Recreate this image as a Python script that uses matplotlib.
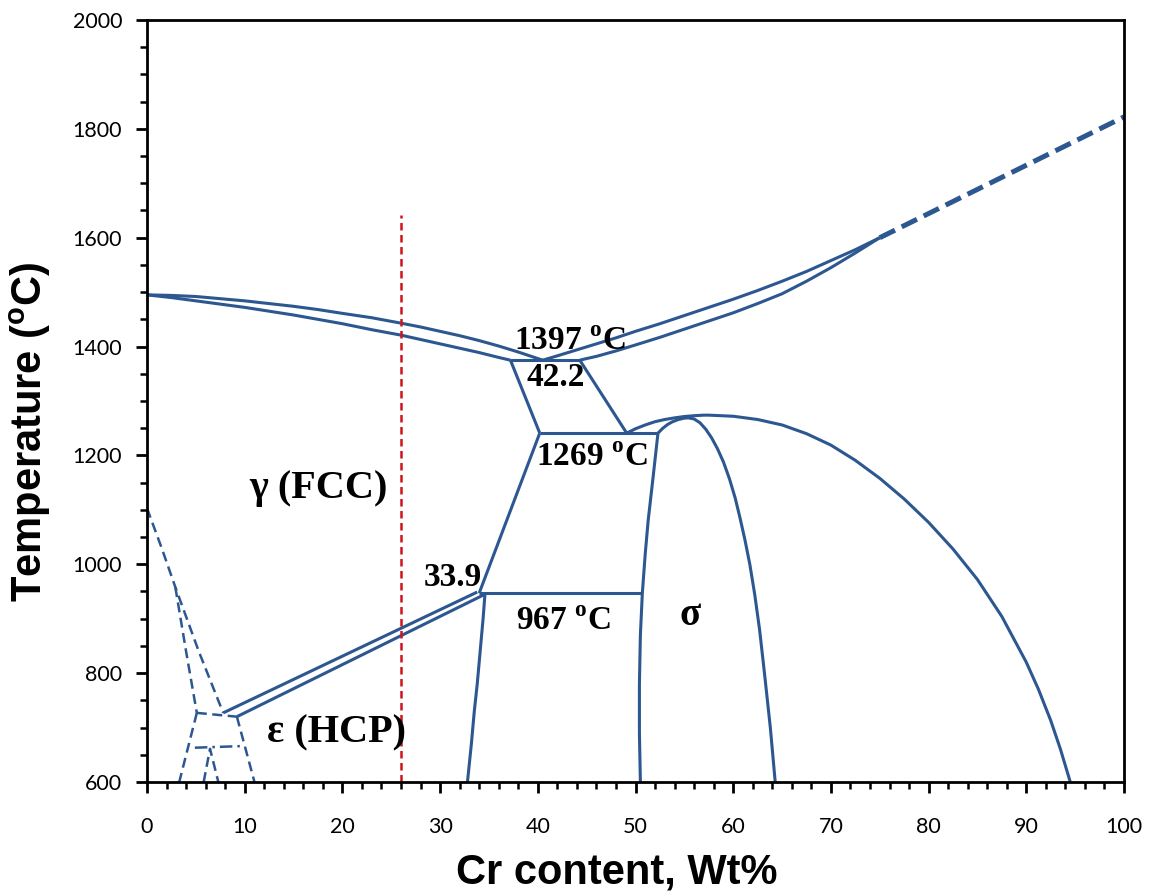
import matplotlib
matplotlib.use("Agg")
import matplotlib.pyplot as plt
from matplotlib.ticker import MultipleLocator

plt.rcParams['mathtext.fontset'] = 'custom'
plt.rcParams['mathtext.bf'] = 'Liberation Serif:bold'
plt.rcParams['mathtext.rm'] = 'Liberation Serif:bold'
plt.rcParams['mathtext.sf'] = 'Liberation Sans:bold'

BLUE = '#2c5790'
RED = '#d0141c'

# ---------------- data (x = Cr wt%, y = temperature degC) ----------------
liq_left_x = [0, 2.5, 5, 7.5, 10, 12.5, 15, 17.5, 20, 23, 26, 28, 30, 32, 34, 36, 38, 40.5]
liq_left_t = [1495, 1494, 1492, 1488, 1484, 1479, 1474, 1468, 1461, 1453, 1443, 1436,
              1428, 1420, 1411, 1401, 1390, 1375]
sol_left_x = [0, 2.5, 5, 7.5, 10, 12.5, 15, 17.5, 20, 23, 26, 28, 30, 32, 34, 36, 37.2]
sol_left_t = [1495, 1490, 1484, 1478, 1472, 1465, 1458, 1450, 1442, 1431, 1421, 1413,
              1405, 1397, 1389, 1380, 1375]

liq_right_x = [40.5, 42, 44, 46, 48, 50, 52.5, 55, 57.5, 60, 62.5, 65, 67.5, 70, 72.5, 75]
liq_right_t = [1375, 1383, 1394, 1405, 1416, 1428, 1442, 1457, 1472, 1487, 1503, 1520,
               1538, 1558, 1578, 1600]
sol_right_x = [44.3, 45, 46, 47, 48, 50, 52.5, 55, 57.5, 60, 62.5, 65, 67.5, 70, 72.5, 75]
sol_right_t = [1375, 1378, 1382, 1387, 1392, 1403, 1417, 1432, 1447, 1462, 1479, 1497,
               1520, 1545, 1572, 1600]

liq_ext_x = [75, 100]
liq_ext_t = [1600, 1822]

eut_x = [37.2, 44.3]
eut_t = [1375, 1375]

trap_left_x = [37.2, 40.2]
trap_left_t = [1375, 1241]
trap_right_x = [44.3, 49.1]
trap_right_t = [1375, 1241]

peri_x = [40.2, 52.3]
peri_t = [1241, 1241]

low_left_x = [40.2, 34.0]
low_left_t = [1241, 947]

eutectoid_x = [34.0, 50.7]
eutectoid_t = [947, 947]

sig_left_x = [34.6, 34.4, 34.2, 34.0, 33.8, 33.5, 33.2, 32.8]
sig_left_t = [947, 900, 860, 820, 780, 730, 670, 600]

sig_mid_x = [52.3, 51.8, 51.3, 51.0, 50.7, 50.5, 50.4, 50.4, 50.5]
sig_mid_t = [1241, 1160, 1081, 1020, 947, 870, 780, 690, 600]

sig_dome_x = [52.3, 52.8, 53.3, 53.8, 54.4, 55.0, 55.4, 56.0, 56.6, 57.2, 57.8, 58.4,
              59.0, 59.6, 60.2, 60.7, 61.2, 61.7, 62.2, 62.7, 63.2, 63.8, 64.3]
sig_dome_t = [1241, 1250, 1257, 1262, 1266, 1268.5, 1269, 1267, 1260, 1248, 1232, 1212,
              1188, 1158, 1122, 1085, 1045, 1000, 945, 880, 800, 700, 600]

bcc_x = [49.1, 50, 51, 52, 53, 54, 55, 56, 57, 57.5, 60, 62.5, 65, 67.5, 70, 72.5,
         75, 77.5, 80, 82.5, 85, 87.5, 90, 91.25, 92.5, 93.5, 94.5]
bcc_t = [1241, 1249, 1256, 1262, 1266, 1269, 1271.5, 1273, 1274, 1274, 1272, 1266,
         1256, 1240, 1219, 1191, 1158, 1120, 1077, 1028, 972, 904, 820, 770, 713, 660, 600]

eps_up_x = [7.8, 33.8]
eps_up_t = [727, 949]
eps_lo_x = [9.2, 34.6]
eps_lo_t = [720, 945]

hcp_a_x = [0, 1.5, 2.9, 5.3, 7.8]
hcp_a_t = [1103, 1030, 958, 840, 727]
hcp_b_x = [2.9, 4.0, 5.1]
hcp_b_t = [958, 840, 727]
hcp_top_x = [5.1, 9.2]
hcp_top_t = [727, 720]
hcp_l_x = [5.1, 3.3]
hcp_l_t = [727, 600]
hcp_r_x = [9.2, 11.0]
hcp_r_t = [720, 600]
hcp_dd_x = [4.9, 9.7]
hcp_dd_t = [663, 666]
hcp_cap_x = [5.8, 6.45, 7.3]
hcp_cap_t = [600, 661, 600]

alloy_x = [26.0, 26.0]
alloy_t = [600, 1642]

labels = [
    (r'1397 $^{\mathbf{o}}$C', 43.3, 1410, 24),
    ('42.2', 41.8, 1344, 24),
    (r'1269 $^{\mathbf{o}}$C', 45.5, 1196, 24),
    ('33.9', 31.3, 975, 24),
    (r'967 $^{\mathbf{o}}$C', 42.6, 894, 24),
    ('σ', 55.6, 905, 28),
    ('γ (FCC)', 17.5, 1140, 29),
    ('ε (HCP)', 19.4, 690, 29),
]

x_ticks = list(range(0, 101, 10))
y_ticks = list(range(600, 2001, 200))

# ---------------- figure ----------------
fig = plt.figure(figsize=(11.49, 8.96), dpi=100)
ax = fig.add_axes([147/1149, 1 - 782/896, (1124-147)/1149, (782-20)/896])

solid = dict(color=BLUE, lw=2.2, solid_capstyle='butt', solid_joinstyle='round')
for xs, ts in [(liq_left_x, liq_left_t), (sol_left_x, sol_left_t),
               (liq_right_x, liq_right_t), (sol_right_x, sol_right_t),
               (eut_x, eut_t), (trap_left_x, trap_left_t), (trap_right_x, trap_right_t),
               (peri_x, peri_t), (low_left_x, low_left_t), (eutectoid_x, eutectoid_t),
               (sig_left_x, sig_left_t), (sig_mid_x, sig_mid_t), (sig_dome_x, sig_dome_t),
               (bcc_x, bcc_t), (eps_up_x, eps_up_t), (eps_lo_x, eps_lo_t)]:
    ax.plot(xs, ts, **solid)

ax.plot(liq_ext_x, liq_ext_t, color=BLUE, lw=3.6, dashes=(3.4, 1.5))

dashed = dict(color=BLUE, lw=1.8, dashes=(4, 2.2))
for xs, ts in [(hcp_a_x, hcp_a_t), (hcp_b_x, hcp_b_t), (hcp_top_x, hcp_top_t),
               (hcp_l_x, hcp_l_t), (hcp_r_x, hcp_r_t), (hcp_cap_x, hcp_cap_t)]:
    ax.plot(xs, ts, **dashed)
ax.plot(hcp_dd_x, hcp_dd_t, color=BLUE, lw=1.8, dashes=(5, 2, 1, 2))

ax.plot(alloy_x, alloy_t, color=RED, lw=1.8, dashes=(3, 1.8))

for txt, x, t, fs in labels:
    ax.text(x, t, txt, fontsize=fs, fontweight='bold', family='Liberation Serif',
            ha='center', va='center', color='black')

ax.set_xlim(0, 100)
ax.set_ylim(600, 2000)
ax.set_xticks(x_ticks)
ax.set_yticks(y_ticks)
ax.xaxis.set_minor_locator(MultipleLocator(2))
ax.yaxis.set_minor_locator(MultipleLocator(50))
ax.tick_params(which='major', direction='out', length=8, width=2, labelsize=15.5,
               colors='black')
ax.tick_params(which='minor', direction='out', length=5, width=1.8)
ax.tick_params(axis='x', pad=17)
ax.tick_params(axis='y', pad=10)
for lab in ax.get_xticklabels() + ax.get_yticklabels():
    lab.set_family('Lato')
for s in ax.spines.values():
    s.set_linewidth(2)
    s.set_color('black')

fig.text(30/1149, 1 - 432/896, r'Temperature ($^{\mathsf{o}}$C)', rotation=90,
         fontsize=30, fontweight='bold', family='Liberation Sans',
         ha='center', va='center')
fig.text(617/1149, 1 - 872/896, 'Cr content, Wt%', fontsize=30,
         fontweight='bold', family='Liberation Sans', ha='center', va='center')

fig.savefig('out.png', dpi=100)
